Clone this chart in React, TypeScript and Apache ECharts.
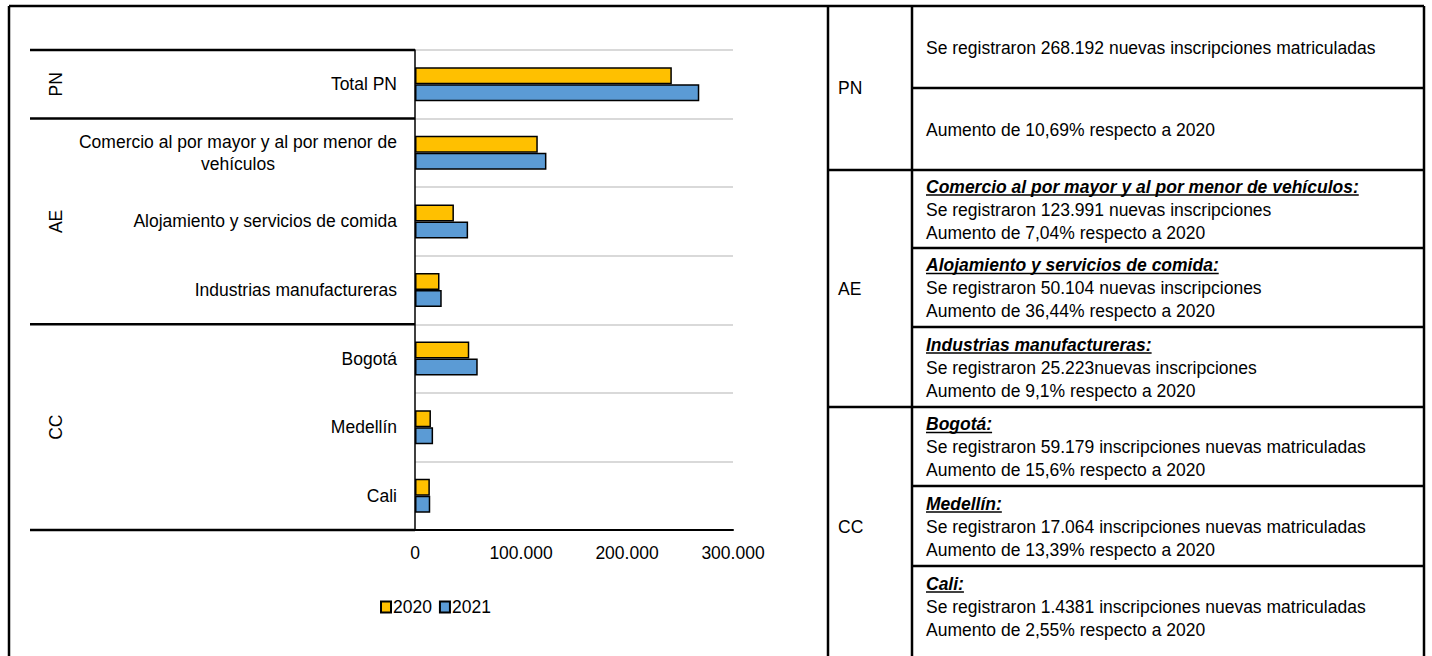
import React, { useEffect, useRef } from "react";
import * as echarts from "echarts";

// ---------- data ----------
const categories = [
  "Total PN",
  "Comercio al por mayor y al por menor de\nvehículos",
  "Alojamiento y servicios de comida",
  "Industrias manufactureras",
  "Bogotá",
  "Medellín",
  "Cali",
];
const seriesNames = ["2020", "2021"];
const values2020 = [242291, 115836, 36722, 23119, 51193, 15049, 14023];
const values2021 = [268192, 123991, 50104, 25223, 59179, 17064, 14381];
const seriesColors = ["#FFC000", "#5B9BD5"];
const valueMin = 0;
const valueMax = 300000;
const valueInterval = 100000;

// category groups (start index, end index exclusive)
const groupLabels = ["PN", "AE", "CC"];
const groupStarts = [0, 1, 4];
const groupEnds = [1, 4, 7];

// table content
const tableGroupNames = ["PN", "AE", "CC"];
const tableRowGroup = [0, 0, 1, 1, 1, 2, 2, 2];
const tableRowTitles = [
  "",
  "",
  "Comercio al por mayor y al por menor de vehículos:",
  "Alojamiento y servicios de comida:",
  "Industrias manufactureras:",
  "Bogotá:",
  "Medellín:",
  "Cali:",
];
const tableRowLines = [
  ["Se registraron 268.192 nuevas inscripciones matriculadas"],
  ["Aumento de 10,69% respecto a 2020"],
  ["Se registraron 123.991 nuevas inscripciones", "Aumento de 7,04% respecto a 2020"],
  ["Se registraron 50.104 nuevas inscripciones", "Aumento de 36,44% respecto a 2020"],
  ["Se registraron 25.223nuevas inscripciones", "Aumento de 9,1% respecto a 2020"],
  ["Se registraron 59.179 inscripciones nuevas matriculadas", "Aumento de 15,6% respecto a 2020"],
  ["Se registraron 17.064 inscripciones nuevas matriculadas", "Aumento de 13,39% respecto a 2020"],
  ["Se registraron 1.4381 inscripciones nuevas matriculadas", "Aumento de 2,55% respecto a 2020"],
];

// ---------- layout ----------
const W = 1432;
const H = 656;
const FONT = "'Liberation Sans', Arial, sans-serif";
const FS = 17.5;
const frameLeft = 9;
const frameTop = 6;
const tableLeft = 828;
const tableDivider = 912;
const tableRight = 1424;
const rowEdges = [6, 88, 170, 248, 327, 407, 486, 566, 646];
const lineH = 23;

function fmtThousands(v: number): string {
  return String(Math.round(v)).replace(/\B(?=(\d{3})+(?!\d))/g, ".");
}

function measure(text: string, font: string): number {
  const c = document.createElement("canvas").getContext("2d");
  if (!c) return text.length * 9;
  c.font = font;
  return c.measureText(text).width;
}

export default function App() {
  const ref = useRef<HTMLDivElement>(null);

  useEffect(() => {
    if (!ref.current) return;
    const chart = echarts.init(ref.current, null, { renderer: "svg" });

    chart.setOption({
      animation: false,
      backgroundColor: "#fff",
      textStyle: { fontFamily: FONT },
      grid: { left: 415, right: W - 733, top: 50, bottom: H - 530, outerBoundsMode: "none" },
      legend: {
        data: seriesNames,
        left: 375,
        top: 593,
        icon: "rect",
        itemWidth: 10,
        itemHeight: 11,
        itemGap: 7,
        textStyle: { fontSize: FS, color: "#000", fontFamily: FONT, padding: [0, 0, 0, -3] },
      },
      xAxis: {
        type: "value",
        min: valueMin,
        max: valueMax,
        interval: valueInterval,
        axisLine: { show: true, lineStyle: { color: "#000", width: 2 } },
        axisTick: { show: false },
        splitLine: { show: false },
        axisLabel: {
          color: "#000",
          fontSize: FS,
          fontFamily: FONT,
          margin: 14,
          formatter: (v: number) => fmtThousands(v),
        },
      },
      yAxis: {
        type: "category",
        data: categories,
        inverse: true,
        axisLine: { show: true, lineStyle: { color: "#000", width: 1.5 } },
        axisTick: { show: false },
        splitLine: { show: true, lineStyle: { color: "#D9D9D9", width: 2 } },
        axisLabel: {
          interval: 0,
          align: "right",
          margin: 18,
          color: "#000",
          fontSize: FS,
          fontFamily: FONT,
          formatter: (v: string) =>
            v
              .split("\n")
              .map((l) => `{c|${l}}`)
              .join("\n"),
          rich: {
            c: { align: "center", fontSize: FS, fontFamily: FONT, color: "#000", lineHeight: 22 },
          },
        },
      },
      series: [
        {
          name: seriesNames[0],
          type: "bar",
          data: values2020,
          barWidth: 17,
          barGap: "0%",
          itemStyle: { color: seriesColors[0], borderColor: "#000", borderWidth: 1.5 },
        },
        {
          name: seriesNames[1],
          type: "bar",
          data: values2021,
          barWidth: 17,
          barGap: "0%",
          itemStyle: { color: seriesColors[1], borderColor: "#000", borderWidth: 1.5 },
        },
      ],
    });

    // ---------- graphics derived from the axes ----------
    const els: any[] = [];
    const line = (x1: number, y1: number, x2: number, y2: number, w = 2, color = "#000") =>
      els.push({ type: "line", silent: true, shape: { x1, y1, x2, y2 }, style: { stroke: color, lineWidth: w } });
    const text = (x: number, y: number, t: string, extra: any = {}) =>
      els.push({
        type: "text",
        silent: true,
        x,
        y,
        rotation: extra.rotation || 0,
        style: {
          text: t,
          fontSize: FS,
          fontFamily: FONT,
          fill: "#000",
          align: extra.align || "left",
          verticalAlign: "middle",
          fontWeight: extra.fontWeight || "normal",
          fontStyle: extra.fontStyle || "normal",
        },
      });

    const y0 = chart.convertToPixel({ yAxisIndex: 0 }, 0) as number;
    const y1 = chart.convertToPixel({ yAxisIndex: 0 }, 1) as number;
    const band = y1 - y0;
    const edge = (k: number) => y0 - band / 2 + k * band;
    const axisX = chart.convertToPixel({ xAxisIndex: 0 }, 0) as number;

    // group separators and rotated group labels
    const groupLineLeft = 30;
    const bounds = new Set<number>();
    groupStarts.forEach((s, i) => {
      bounds.add(s);
      bounds.add(groupEnds[i]);
      const yc = (edge(s) + edge(groupEnds[i])) / 2;
      text(56, yc, groupLabels[i], { align: "center", rotation: Math.PI / 2 });
    });
    bounds.forEach((k) => line(groupLineLeft, edge(k), axisX, edge(k), 2.5));

    // outer frame and table grid
    line(frameLeft, frameTop, tableRight, frameTop, 2.5);
    line(frameLeft, frameTop, frameLeft, H + 4, 2.5);
    line(tableLeft, frameTop, tableLeft, H + 4, 2.5);
    line(tableDivider, frameTop, tableDivider, H + 4, 2.5);
    line(tableRight, frameTop, tableRight, H + 4, 2.5);
    for (let r = 1; r < tableRowGroup.length; r++) {
      const newGroup = tableRowGroup[r] !== tableRowGroup[r - 1];
      line(newGroup ? tableLeft : tableDivider, rowEdges[r], tableRight, rowEdges[r], 2.5);
    }

    // group names in the first column
    tableGroupNames.forEach((name, gi) => {
      const rows = tableRowGroup.map((g, i) => (g === gi ? i : -1)).filter((i) => i >= 0);
      const top = rowEdges[rows[0]];
      const bottom = rowEdges[rows[rows.length - 1] + 1];
      text(tableLeft + 10, (top + bottom) / 2, name);
    });

    // cell texts
    const titleFont = `italic bold ${FS}px 'Liberation Sans', Arial, sans-serif`;
    tableRowLines.forEach((lines, r) => {
      const all = tableRowTitles[r] ? [tableRowTitles[r], ...lines] : lines;
      const cy = (rowEdges[r] + rowEdges[r + 1]) / 2 + 0.5;
      const startY = cy - ((all.length - 1) * lineH) / 2;
      const tx = tableDivider + 14;
      all.forEach((t, i) => {
        const ly = startY + i * lineH;
        if (tableRowTitles[r] && i === 0) {
          text(tx, ly, t, { fontWeight: "bold", fontStyle: "italic" });
          const w = measure(t, titleFont);
          line(tx, ly + 8.5, tx + w, ly + 8.5, 1.5);
        } else {
          text(tx, ly, t);
        }
      });
    });

    chart.setOption({ graphic: { elements: els } });

    return () => chart.dispose();
  }, []);

  return (
    <div
      ref={ref}
      style={{ position: "absolute", left: 0, top: 0, width: W, height: H, background: "#fff" }}
    />
  );
}
